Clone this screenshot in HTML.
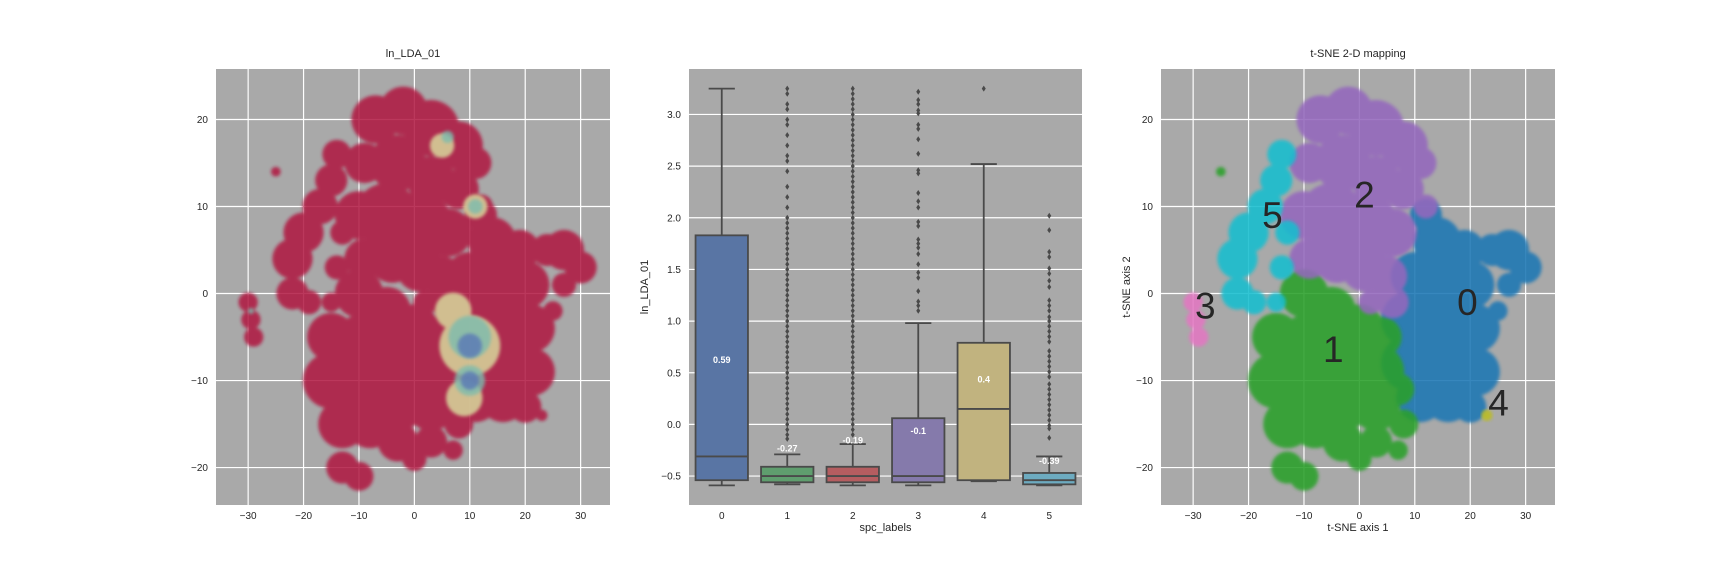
<!DOCTYPE html>
<html><head><meta charset="utf-8">
<style>
html,body{margin:0;padding:0;background:#fff;}
svg{display:block;font-family:"Liberation Sans",sans-serif;}
</style></head>
<body>
<svg id="fig" width="1728" height="576" viewBox="0 0 1728 576" xmlns="http://www.w3.org/2000/svg">
<defs><filter id="soft" x="-10%" y="-10%" width="120%" height="120%"><feGaussianBlur stdDeviation="1.5"/></filter></defs>
</svg>
<script>
// ---------- scatter data (blobs: [x, y, radius] in t-SNE units) ----------
const cluster0 = [[12,9,2],[14,6,3],[19,5,2.5],[10,2,3],[15,2,3.5],[20,1,3],[9,-3,3.5],[15,-3,4],[21,-4,3],[9,-8,3.5],[15,-8,4],[21,-9,3],[11,-12,3],[16,-12,3],[20,-13,2],[24,5,2],[27,5,2.5],[30,3,2],[27,1,1.5],[25,-2,1.2]];
const cluster1 = [[-10,0,3],[-5,-2,3],[0,-4,3],[4,-5,2.5],[-15,-5,3],[-9,-6,4],[-3,-8,4],[3,-9,3.5],[-15,-10,3.5],[-9,-11,4],[-3,-12,4],[3,-13,3],[7,-11,2],[-13,-15,3],[-8,-15,3],[-3,-17,2.5],[3,-17,2],[8,-15,1.8],[-13,-20,2],[-10,-21,1.8],[0,-19,1.5],[7,-18,1.2],[-25,14,0.6]];
const cluster2 = [[-7,20,3],[-2,21,3],[3,19,3.5],[8,17,3],[11,15,2],[-9,15,2.5],[-3,15,3.5],[3,13,3],[8,12,2.5],[12,10,1.5],[-10,9,3],[-5,9,4],[1,8,4],[6,7,3],[-9,4,2.5],[-4,4,3],[1,3,3],[5,2,2.5],[6,-1,2],[2,-1,1.5]];
const cluster3 = [[-30,-1,1.2],[-29.5,-3,1.2],[-29,-5,1.2]];
const cluster4 = [[23,-14,0.7]];
const cluster5 = [[-14,16,1.8],[-15,13,2],[-17,10,2.2],[-20,7,2.5],[-22,4,2.5],[-22,0,2],[-19,-1,1.5],[-15,-1,1.2],[-14,3,1.5],[-13,7,1.5]];
const clusterLabels = ["0","1","2","3","4","5"];
const labelX = [19.5,-4.7,0.9,-27.8,25.1,-15.7];
const labelY = [-1,-6.4,11.4,-1.4,-12.5,9];
// low-value regions in the ln_LDA_01 colored map
const lowYellow = [[10,-6,5],[9,-12,3],[7,-2,3],[5,17,2],[11,10,2]];
const lowTeal = [[10,-5,3.5],[10,-10,2.5],[6,18,1],[11,10,1.2],[-29.5,-2,0.5]];
const lowBlue = [[10,-6,2],[10,-10,1.5]];
const xTicks = [-30,-20,-10,0,10,20,30];
const yTicks = [-20,-10,0,10,20];
// ---------- boxplot data ----------
const cats = ["0","1","2","3","4","5"];
const wLow = [-0.59,-0.58,-0.59,-0.59,-0.55,-0.59];
const q1 = [-0.54,-0.56,-0.56,-0.56,-0.54,-0.58];
const med = [-0.31,-0.50,-0.50,-0.50,0.15,-0.54];
const q3 = [1.83,-0.41,-0.41,0.06,0.79,-0.47];
const wHigh = [3.25,-0.29,-0.19,0.98,2.52,-0.31];
const means = [0.59,-0.27,-0.19,-0.1,0.4,-0.39];
const out0 = [];
const out1 = [-0.14,-0.1,-0.05,0,0.05,0.1,0.15,0.2,0.25,0.3,0.35,0.4,0.45,0.5,0.55,0.6,0.65,0.7,0.75,0.8,0.85,0.9,0.95,1.0,1.05,1.1,1.15,1.2,1.25,1.3,1.35,1.4,1.45,1.5,1.55,1.6,1.65,1.7,1.75,1.8,1.85,1.9,1.95,2.0,2.1,2.2,2.3,2.45,2.55,2.6,2.7,2.8,2.9,2.95,3.05,3.1,3.2,3.25];
const out2 = [-0.1,-0.05,0,0.05,0.1,0.15,0.2,0.25,0.3,0.35,0.4,0.45,0.5,0.55,0.6,0.65,0.7,0.75,0.8,0.85,0.9,0.95,1.0,1.05,1.1,1.15,1.2,1.25,1.3,1.35,1.4,1.45,1.5,1.55,1.6,1.65,1.7,1.75,1.8,1.85,1.9,1.95,2.0,2.05,2.1,2.15,2.2,2.25,2.3,2.35,2.4,2.45,2.5,2.55,2.6,2.65,2.7,2.75,2.8,2.85,2.9,2.95,3.0,3.05,3.1,3.15,3.2,3.25];
const out3 = [1.1,1.15,1.19,1.29,1.42,1.47,1.55,1.65,1.71,1.75,1.79,1.92,1.96,2.10,2.16,2.24,2.43,2.46,2.62,2.76,2.86,2.90,3.01,3.04,3.10,3.14,3.22];
const out4 = [3.25];
const out5 = [2.02,1.88,1.67,1.62,1.51,1.46,1.39,1.33,1.2,1.15,1.1,1.04,1.0,0.95,0.9,0.85,0.8,0.71,0.66,0.61,0.56,0.51,0.46,0.39,0.34,0.29,0.24,0.19,0.14,0.09,0.04,-0.01,-0.04,-0.13];
const boxYTicks = [-0.5,0.0,0.5,1.0,1.5,2.0,2.5,3.0];

const NS = "http://www.w3.org/2000/svg";
const svg = document.getElementById('fig');
function mk(tag, attrs, parent){ const e=document.createElementNS(NS,tag); for(const k in attrs) e.setAttribute(k,attrs[k]); (parent||svg).appendChild(e); return e; }
function fmt(v){ return (v<0?"\u2212":"")+Math.abs(v); }
function fmt1(v){ return (v<0?"\u2212":"")+Math.abs(v).toFixed(1); }

const TOP=69, BOT=505;
const XMIN=-35.8, XMAX=35.3, YMIN=-24.3, YMAX=25.8;
const SPREAD = 1.45; // marker-cloud spread factor (style)

function scatterPanel(L, R, name){
  const g = mk('g', {});
  
  
  const sx = v => L + (v-XMIN)/(XMAX-XMIN)*(R-L);
  const sy = v => TOP + (YMAX-v)/(YMAX-YMIN)*(BOT-TOP);
  const bg = mk('rect', {x:L,y:TOP,width:R-L,height:BOT-TOP,fill:'#a9a9a9'}, g);
  
  
  xTicks.forEach(t=>{
    const ln = mk('line',{x1:sx(t),x2:sx(t),y1:TOP,y2:BOT,stroke:'#fff','stroke-width':1.2},g);
    
    
    const tx = mk('text',{x:sx(t),y:BOT+14,'text-anchor':'middle','font-size':10,fill:'#262626'},g);
    
    
    tx.textContent = fmt(t);
  });
  yTicks.forEach(t=>{
    const ln = mk('line',{x1:L,x2:R,y1:sy(t),y2:sy(t),stroke:'#fff','stroke-width':1.2},g);
    
    
    const tx = mk('text',{x:L-8,y:sy(t)+3.5,'text-anchor':'end','font-size':10,fill:'#262626'},g);
    
    
    tx.textContent = fmt(t);
  });
  return {g, sx, sy, k:(R-L)/(XMAX-XMIN)};
}
function blobs(p, arr, color, op, name, spread){
  const gg = mk('g',{opacity:op, filter:'url(#soft)'},p.g);
  
  
  arr.forEach(b=>{
    const c = mk('circle',{cx:p.sx(b[0]),cy:p.sy(b[1]),r:b[2]*p.k*spread,fill:color},gg);
    
    
  });
}

// ---------- left panel ----------
const pL = scatterPanel(216, 610, 'ln-lda-scatter-panel');
const allBlobs = [].concat(cluster0,cluster1,cluster2,cluster3,cluster4,cluster5);
blobs(pL, allBlobs, '#b01440', 0.85, 'high-value-points', SPREAD);
blobs(pL, lowYellow, '#d8d89c', 0.85, 'mid-value-points', 1.1);
blobs(pL, lowTeal, '#7cbcae', 0.8, 'low-value-points', 1.1);
blobs(pL, lowBlue, '#5a78b6', 0.8, 'lowest-value-points', 1.1);
let t = mk('text',{x:413,y:57,'text-anchor':'middle','font-size':11,fill:'#262626'});


t.textContent='ln_LDA_01';

// ---------- right panel ----------
const pR = scatterPanel(1161, 1555, 'tsne-scatter-panel');
const clusterData = [cluster0,cluster1,cluster2,cluster3,cluster4,cluster5];
const clusterColors = ['#1f77b4','#2ca02c','#9467bd','#e377c2','#bcbd22','#17becf'];
clusterData.forEach((c,i)=>blobs(pR, c, clusterColors[i], 0.88, 'cluster-'+i+'-points', SPREAD));
clusterLabels.forEach((s,i)=>{
  const tx = mk('text',{x:pR.sx(labelX[i]),y:pR.sy(labelY[i])+13,'text-anchor':'middle','font-size':37,fill:'#262626'},pR.g);
  
  
  tx.textContent = s;
});
t = mk('text',{x:1358,y:57,'text-anchor':'middle','font-size':11,fill:'#262626'});


t.textContent='t-SNE 2-D mapping';
t = mk('text',{x:1358,y:531,'text-anchor':'middle','font-size':11,fill:'#262626'});


t.textContent='t-SNE axis 1';
t = mk('text',{x:0,y:0,'text-anchor':'middle','font-size':11,fill:'#262626',transform:'translate(1130,287) rotate(-90)'});


t.textContent='t-SNE axis 2';

// ---------- middle boxplot ----------
(function(){
  const L=689, R=1082, BYMAX=3.44, BYMIN=-0.78;
  const g = mk('g',{});
  
  
  const sy = v => TOP + (BYMAX-v)/(BYMAX-BYMIN)*(BOT-TOP);
  const band = (R-L)/cats.length;
  const sx = i => L + band*(i+0.5);
  const bg = mk('rect',{x:L,y:TOP,width:R-L,height:BOT-TOP,fill:'#a9a9a9'},g);
  
  
  boxYTicks.forEach(v=>{
    const ln = mk('line',{x1:L,x2:R,y1:sy(v),y2:sy(v),stroke:'#fff','stroke-width':1.2},g);
    
    
    const tx = mk('text',{x:L-8,y:sy(v)+3.5,'text-anchor':'end','font-size':10,fill:'#262626'},g);
    
    
    tx.textContent = fmt1(v);
  });
  const fills = ['#5975a4','#5f9e6e','#b55d60','#857aab','#c1b37f','#6dabc0'];
  const outs = [out0,out1,out2,out3,out4,out5];
  const lc = '#4a4a4a', bw = band*0.8, cw = bw*0.5;
  cats.forEach((c,i)=>{
    const cx = sx(i);
    const bg2 = mk('g',{},g);
    
    
    let e = mk('line',{x1:cx,x2:cx,y1:sy(wHigh[i]),y2:sy(q3[i]),stroke:lc,'stroke-width':1.8},bg2);
    
    
    e = mk('line',{x1:cx,x2:cx,y1:sy(q1[i]),y2:sy(wLow[i]),stroke:lc,'stroke-width':1.8},bg2);
    
    
    e = mk('line',{x1:cx-cw/2,x2:cx+cw/2,y1:sy(wHigh[i]),y2:sy(wHigh[i]),stroke:lc,'stroke-width':1.8},bg2);
    
    
    e = mk('line',{x1:cx-cw/2,x2:cx+cw/2,y1:sy(wLow[i]),y2:sy(wLow[i]),stroke:lc,'stroke-width':1.8},bg2);
    
    
    e = mk('rect',{x:cx-bw/2,y:sy(q3[i]),width:bw,height:sy(q1[i])-sy(q3[i]),fill:fills[i],stroke:lc,'stroke-width':1.8},bg2);
    
    
    e = mk('line',{x1:cx-bw/2,x2:cx+bw/2,y1:sy(med[i]),y2:sy(med[i]),stroke:lc,'stroke-width':1.8},bg2);
    
    
    outs[i].forEach(v=>{
      const y=sy(v);
      const d = mk('path',{d:`M${cx},${y-3} L${cx+2},${y} L${cx},${y+3} L${cx-2},${y} Z`,fill:lc},bg2);
      
      
    });
    e = mk('text',{x:cx,y:sy(means[i]+0.04)+3.5,'text-anchor':'middle','font-size':9,'font-weight':'bold',fill:'#fff'},bg2);
    
    
    e.textContent = String(means[i]);
    e = mk('text',{x:cx,y:BOT+14,'text-anchor':'middle','font-size':10,fill:'#262626'},g);
    
    
    e.textContent = c;
  });
  let tx = mk('text',{x:(L+R)/2,y:531,'text-anchor':'middle','font-size':11,fill:'#262626'},g);
  
  
  tx.textContent='spc_labels';
  tx = mk('text',{x:0,y:0,'text-anchor':'middle','font-size':11,fill:'#262626',transform:'translate(648,287) rotate(-90)'},g);
  
  
  tx.textContent='ln_LDA_01';
})();
</script>
</body></html>
